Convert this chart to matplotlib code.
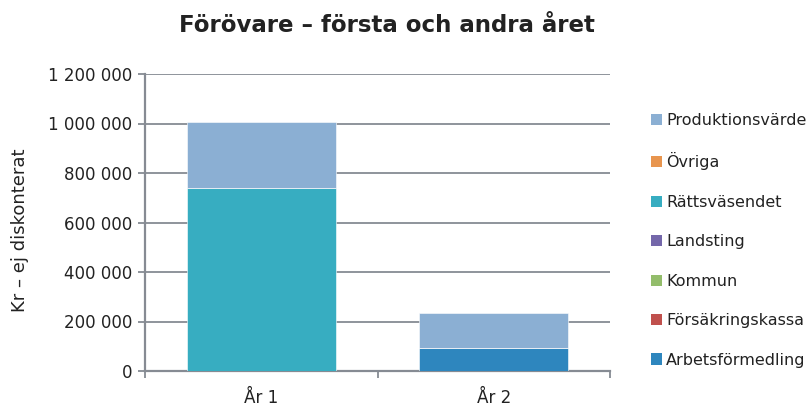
import numpy as np
import matplotlib.pyplot as plt
from matplotlib.patches import Patch
from matplotlib.ticker import FuncFormatter

plt.rcParams['font.family'] = ['DejaVu Sans']

# Categories and cost components (kr, not discounted)
years = ['År 1', 'År 2']
arbetsformedling = [0, 94000]
forsakringskassa = [0, 0]
kommun = [0, 0]
landsting = [0, 0]
rattsvasendet = [740000, 0]
ovriga = [0, 0]
produktionsvarde = [268000, 141000]

series = [
    ('Arbetsförmedling', arbetsformedling, '#2E86BE'),
    ('Försäkringskassa', forsakringskassa, '#C0504D'),
    ('Kommun', kommun, '#93BD6B'),
    ('Landsting', landsting, '#7467AA'),
    ('Rättsväsendet', rattsvasendet, '#37ADC1'),
    ('Övriga', ovriga, '#E8954E'),
    ('Produktionsvärde', produktionsvarde, '#8BAFD3'),
]

axis_col = '#868B93'
text_col = '#222222'

fig = plt.figure(figsize=(8.1, 4.08), dpi=100)
ax = fig.add_axes([145 / 810, 1 - 371 / 408, 465 / 810, 297 / 408])

x = np.arange(len(years))
bottom = np.zeros(len(years))
for name, vals, col in series:
    vals = np.array(vals, dtype=float)
    ax.bar(x, vals, width=0.64, bottom=bottom, color=col,
           edgecolor='white', linewidth=0.4, zorder=3)
    bottom += vals

ax.set_xlim(-0.5, 1.5)
ax.set_ylim(0, 1200000)
ax.set_yticks(np.arange(0, 1200001, 200000))
ax.yaxis.set_major_formatter(FuncFormatter(lambda v, p: f'{int(v):,}'.replace(',', ' ')))
ax.grid(axis='y', color=axis_col, linewidth=1.3, zorder=0)

ax.set_xticks(x)
ax.set_xticklabels(years, fontsize=12)
ax.set_xticks([-0.5, 0.5, 1.5], minor=True)
ax.tick_params(axis='x', which='major', length=0, pad=13, labelcolor=text_col)
ax.tick_params(axis='x', which='minor', length=5, color=axis_col, width=1.3)
ax.tick_params(axis='y', length=5, color=axis_col, width=1.3, labelsize=12, pad=4,
               labelcolor=text_col)

for side in ['top', 'right']:
    ax.spines[side].set_visible(False)
for side in ['left', 'bottom']:
    ax.spines[side].set_color(axis_col)
    ax.spines[side].set_linewidth(1.6)

ax.set_ylabel('Kr – ej diskonterat', fontsize=13, color=text_col)
ax.yaxis.set_label_coords(-116 / 465, 0.475)

fig.text(387 / 810, 1 - 26 / 408, 'Förövare – första och andra året',
         ha='center', va='center', fontsize=16.5, fontweight='bold', color=text_col)

handles = [Patch(facecolor=col, edgecolor='none') for _, _, col in series][::-1]
labels = [name for name, _, _ in series][::-1]
fig.legend(handles, labels, loc='upper left', bbox_to_anchor=(651 / 810, 1 - 113 / 408),
           frameon=False, fontsize=11.5, handlelength=0.7, handleheight=0.7,
           handletextpad=0.25, labelspacing=1.53, borderaxespad=0, borderpad=0,
           labelcolor=text_col)

fig.savefig('out.png', dpi=100)
